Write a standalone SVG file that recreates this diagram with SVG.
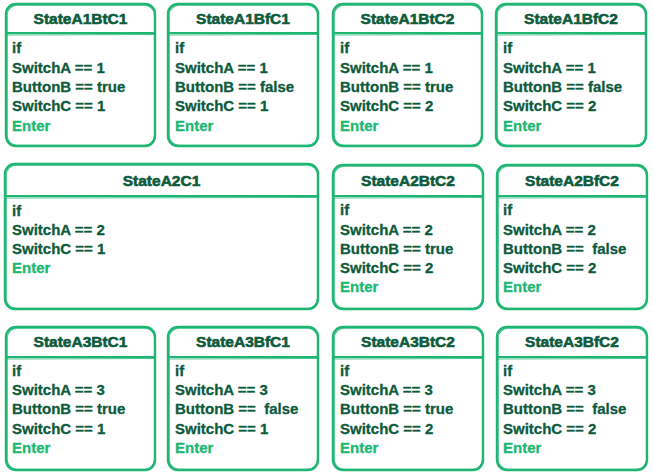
<svg xmlns="http://www.w3.org/2000/svg" width="653" height="474" viewBox="0 0 653 474">
<style>
.b{fill:#ffffff;stroke:#1fb673;stroke-width:2.4}
.b2{fill:none;stroke:#1fb673;stroke-width:1.1;opacity:0.8}
.d{stroke:#1fb673;stroke-width:2.2}
.d2{stroke:#1fb673;stroke-width:1;opacity:0.8}
.t{font-family:"Liberation Sans",Arial,sans-serif;font-weight:bold;font-size:15.5px;fill:#0d5b3c;stroke:#0d5b3c;stroke-width:0.6;text-anchor:middle}
.l{font-family:"Liberation Sans",Arial,sans-serif;font-weight:bold;font-size:15px;fill:#0d5b3c;stroke:#0d5b3c;stroke-width:0.3}
.e{fill:#1cb872;stroke:#1cb872}
</style>
<rect width="653" height="474" fill="#ffffff"/>
<g id="connectors"></g>

<g id="StateA1BtC1">
<rect class="b" x="6" y="4" width="149" height="142" rx="10"/>
<rect class="b2" x="7.2" y="5.3" width="147.3" height="140" rx="10"/>
<line class="d" x1="6" y1="33" x2="155" y2="33"/><line class="d2" x1="7" y1="35" x2="154" y2="34.5"/>
<text class="t" x="80.5" y="24">StateA1BtC1</text>
<text class="l" x="12" y="53">if</text>
<text class="l" x="12" y="73">SwitchA == 1</text>
<text class="l" x="12" y="92">ButtonB == true</text>
<text class="l" x="12" y="111">SwitchC == 1</text>
<text class="l e" x="12" y="131">Enter</text>
</g>

<g id="StateA1BfC1">
<rect class="b" x="168" y="4" width="150" height="142" rx="10"/>
<rect class="b2" x="169.2" y="5.3" width="148.3" height="140" rx="10"/>
<line class="d" x1="168" y1="33" x2="318" y2="33"/><line class="d2" x1="169" y1="35" x2="317" y2="34.5"/>
<text class="t" x="243" y="24">StateA1BfC1</text>
<text class="l" x="175" y="53">if</text>
<text class="l" x="175" y="73">SwitchA == 1</text>
<text class="l" x="175" y="92">ButtonB == false</text>
<text class="l" x="175" y="111">SwitchC == 1</text>
<text class="l e" x="175" y="131">Enter</text>
</g>

<g id="StateA1BtC2">
<rect class="b" x="333" y="4" width="149" height="142" rx="10"/>
<rect class="b2" x="334.2" y="5.3" width="147.3" height="140" rx="10"/>
<line class="d" x1="333" y1="33" x2="482" y2="33"/><line class="d2" x1="334" y1="35" x2="481" y2="34.5"/>
<text class="t" x="407.5" y="24">StateA1BtC2</text>
<text class="l" x="340" y="53">if</text>
<text class="l" x="340" y="73">SwitchA == 1</text>
<text class="l" x="340" y="92">ButtonB == true</text>
<text class="l" x="340" y="111">SwitchC == 2</text>
<text class="l e" x="340" y="131">Enter</text>
</g>

<g id="StateA1BfC2">
<rect class="b" x="496" y="4" width="150" height="142" rx="10"/>
<rect class="b2" x="497.2" y="5.3" width="148.3" height="140" rx="10"/>
<line class="d" x1="496" y1="33" x2="646" y2="33"/><line class="d2" x1="497" y1="35" x2="645" y2="34.5"/>
<text class="t" x="571" y="24">StateA1BfC2</text>
<text class="l" x="503" y="53">if</text>
<text class="l" x="503" y="73">SwitchA == 1</text>
<text class="l" x="503" y="92">ButtonB == false</text>
<text class="l" x="503" y="111">SwitchC == 2</text>
<text class="l e" x="503" y="131">Enter</text>
</g>

<g id="StateA2C1">
<rect class="b" x="5" y="164" width="313" height="145" rx="10"/>
<rect class="b2" x="6.2" y="165.3" width="311.3" height="143" rx="10"/>
<line class="d" x1="5" y1="196" x2="318" y2="196"/><line class="d2" x1="6" y1="198" x2="317" y2="197.5"/>
<text class="t" x="161.5" y="186">StateA2C1</text>
<text class="l" x="12" y="216">if</text>
<text class="l" x="12" y="235">SwitchA == 2</text>
<text class="l" x="12" y="254">SwitchC == 1</text>
<text class="l e" x="12" y="273">Enter</text>
</g>

<g id="StateA2BtC2">
<rect class="b" x="333" y="165" width="150" height="144" rx="10"/>
<rect class="b2" x="334.2" y="166.3" width="148.3" height="142" rx="10"/>
<line class="d" x1="333" y1="196" x2="483" y2="196"/><line class="d2" x1="334" y1="198" x2="482" y2="197.5"/>
<text class="t" x="408" y="186">StateA2BtC2</text>
<text class="l" x="340" y="215">if</text>
<text class="l" x="340" y="235">SwitchA == 2</text>
<text class="l" x="340" y="254">ButtonB == true</text>
<text class="l" x="340" y="273">SwitchC == 2</text>
<text class="l e" x="340" y="292">Enter</text>
</g>

<g id="StateA2BfC2">
<rect class="b" x="497" y="165" width="150" height="144" rx="10"/>
<rect class="b2" x="498.2" y="166.3" width="148.3" height="142" rx="10"/>
<line class="d" x1="497" y1="196" x2="647" y2="196"/><line class="d2" x1="498" y1="198" x2="646" y2="197.5"/>
<text class="t" x="572" y="186">StateA2BfC2</text>
<text class="l" x="503" y="215">if</text>
<text class="l" x="503" y="235">SwitchA == 2</text>
<text class="l" x="503" y="254" xml:space="preserve">ButtonB ==  false</text>
<text class="l" x="503" y="273">SwitchC == 2</text>
<text class="l e" x="503" y="292">Enter</text>
</g>

<g id="StateA3BtC1">
<rect class="b" x="6" y="327" width="149" height="143" rx="10"/>
<rect class="b2" x="7.2" y="328.3" width="147.3" height="141" rx="10"/>
<line class="d" x1="6" y1="357" x2="155" y2="357"/><line class="d2" x1="7" y1="359" x2="154" y2="358.5"/>
<text class="t" x="80.5" y="347">StateA3BtC1</text>
<text class="l" x="12" y="376">if</text>
<text class="l" x="12" y="395">SwitchA == 3</text>
<text class="l" x="12" y="414">ButtonB == true</text>
<text class="l" x="12" y="434">SwitchC == 1</text>
<text class="l e" x="12" y="453">Enter</text>
</g>

<g id="StateA3BfC1">
<rect class="b" x="168" y="327" width="150" height="143" rx="10"/>
<rect class="b2" x="169.2" y="328.3" width="148.3" height="141" rx="10"/>
<line class="d" x1="168" y1="357" x2="318" y2="357"/><line class="d2" x1="169" y1="359" x2="317" y2="358.5"/>
<text class="t" x="243" y="347">StateA3BfC1</text>
<text class="l" x="175" y="376">if</text>
<text class="l" x="175" y="395">SwitchA == 3</text>
<text class="l" x="175" y="414" xml:space="preserve">ButtonB ==  false</text>
<text class="l" x="175" y="434">SwitchC == 1</text>
<text class="l e" x="175" y="453">Enter</text>
</g>

<g id="StateA3BtC2">
<rect class="b" x="333" y="327" width="150" height="143" rx="10"/>
<rect class="b2" x="334.2" y="328.3" width="148.3" height="141" rx="10"/>
<line class="d" x1="333" y1="357" x2="483" y2="357"/><line class="d2" x1="334" y1="359" x2="482" y2="358.5"/>
<text class="t" x="408" y="347">StateA3BtC2</text>
<text class="l" x="340" y="376">if</text>
<text class="l" x="340" y="395">SwitchA == 3</text>
<text class="l" x="340" y="414">ButtonB == true</text>
<text class="l" x="340" y="434">SwitchC == 2</text>
<text class="l e" x="340" y="453">Enter</text>
</g>

<g id="StateA3BfC2">
<rect class="b" x="497" y="327" width="150" height="143" rx="10"/>
<rect class="b2" x="498.2" y="328.3" width="148.3" height="141" rx="10"/>
<line class="d" x1="497" y1="357" x2="647" y2="357"/><line class="d2" x1="498" y1="359" x2="646" y2="358.5"/>
<text class="t" x="572" y="347">StateA3BfC2</text>
<text class="l" x="503" y="376">if</text>
<text class="l" x="503" y="395">SwitchA == 3</text>
<text class="l" x="503" y="414" xml:space="preserve">ButtonB ==  false</text>
<text class="l" x="503" y="434">SwitchC == 2</text>
<text class="l e" x="503" y="453">Enter</text>
</g>
</svg>
